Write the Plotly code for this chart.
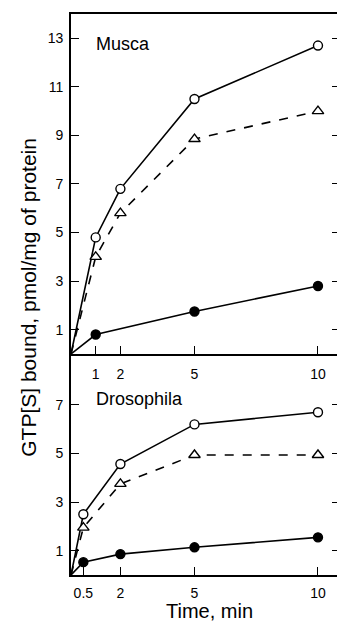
import plotly.graph_objects as go

# Musca (top panel)
musca_x = [0, 1, 2, 5, 10]
musca_open_circle = [0, 4.8, 6.8, 10.5, 12.7]
musca_triangle = [0, 4.0, 5.8, 8.85, 10.0]
musca_filled_x = [0, 1, 5, 10]
musca_filled = [0, 0.8, 1.75, 2.8]

# Drosophila (bottom panel)
dros_x = [0, 0.5, 2, 5, 10]
dros_open_circle = [0, 2.5, 4.57, 6.2, 6.7]
dros_triangle = [0, 1.95, 3.75, 4.94, 4.94]
dros_filled = [0, 0.53, 0.86, 1.14, 1.55]

musca_xticks = [1, 2, 5, 10]
dros_xticks = [0.5, 2, 5, 10]
musca_yticks = [1, 3, 5, 7, 9, 11, 13]
dros_yticks = [1, 3, 5, 7]

FONT = "Liberation Sans, Arial, sans-serif"
LW = 1.6


def series(x, y, symbol, dash, xa, ya, fill=False):
    traces = [go.Scatter(
        x=x, y=y, xaxis=xa, yaxis=ya, mode="lines",
        line=dict(color="black", width=LW, dash=dash),
        showlegend=False, hoverinfo="skip",
    )]
    # origin point has no marker in the reference
    traces.append(go.Scatter(
        x=x[1:], y=y[1:], xaxis=xa, yaxis=ya, mode="markers",
        marker=dict(symbol=symbol, size=9 if symbol == "circle" else 10,
                    opacity=1,
                    color="#000000" if fill else "#ffffff",
                    line=dict(color="#000000", width=1.4)),
        showlegend=False, cliponaxis=False,
    ))
    return traces


fig = go.Figure()
# top panel: x2 / y2
for t in (series(musca_x, musca_open_circle, "circle", "solid", "x2", "y2")
          + series(musca_x, musca_triangle, "triangle-up", "dash", "x2", "y2")
          + series(musca_filled_x, musca_filled, "circle", "solid", "x2", "y2", fill=True)):
    fig.add_trace(t)
# bottom panel: x / y
for t in (series(dros_x, dros_open_circle, "circle", "solid", "x", "y")
          + series(dros_x, dros_triangle, "triangle-up", "dash", "x", "y")
          + series(dros_x, dros_filled, "circle", "solid", "x", "y", fill=True)):
    fig.add_trace(t)
# empty traces so the right-hand tick axes exist
fig.add_trace(go.Scatter(x=[], y=[], xaxis="x", yaxis="y3", showlegend=False))
fig.add_trace(go.Scatter(x=[], y=[], xaxis="x2", yaxis="y4", showlegend=False))

split = 0.394
xr = [0, 10.77]
tickfont = dict(family=FONT, size=14, color="black")
common_x = dict(range=xr, showgrid=False, zeroline=False, showline=True,
                linecolor="black", linewidth=LW, ticks="inside", ticklen=8,
                tickwidth=1.3, tickcolor="black", tickfont=tickfont)
common_y = dict(showgrid=False, zeroline=False, showline=True,
                linecolor="black", linewidth=LW, ticks="inside", ticklen=8,
                tickwidth=1.3, tickcolor="black", tickfont=tickfont,
                ticklabelstandoff=3)

fig.update_layout(
    width=337, height=627,
    margin=dict(l=71, r=0, t=14, b=52),
    paper_bgcolor="white", plot_bgcolor="white",
    font=dict(family=FONT, color="black"),
    xaxis=dict(common_x, anchor="y", tickvals=dros_xticks,
               ticktext=["0.5", "2", "5", "10"], ticklabelstandoff=4),
    yaxis=dict(common_y, domain=[0, split], range=[0, 9.1], anchor="x",
               tickvals=dros_yticks),
    xaxis2=dict(common_x, anchor="y2", tickvals=musca_xticks, mirror=True,
                ticklabelstandoff=6),
    yaxis2=dict(common_y, domain=[split, 1], range=[0, 14], anchor="x2",
                tickvals=musca_yticks),
    yaxis3=dict(overlaying="y", side="right", anchor="x", range=[0, 9.1],
                tickvals=dros_yticks, ticks="inside", ticklen=5, tickwidth=1.3,
                tickcolor="black", showticklabels=False, showline=False,
                showgrid=False, zeroline=False),
    yaxis4=dict(overlaying="y2", side="right", anchor="x2", range=[0, 14],
                tickvals=musca_yticks, ticks="inside", ticklen=5, tickwidth=1.3,
                tickcolor="black", showticklabels=False, showline=False,
                showgrid=False, zeroline=False),
    annotations=[
        dict(text="Musca", xref="x2 domain", yref="y2 domain", x=0.088, y=0.913,
             xanchor="left", yanchor="middle", showarrow=False,
             font=dict(family=FONT, size=18, color="black")),
        dict(text="Drosophila", xref="x domain", yref="y domain", x=0.088, y=0.795,
             xanchor="left", yanchor="middle", showarrow=False,
             font=dict(family=FONT, size=18, color="black")),
        dict(text="GTP[S] bound, pmol/mg of protein", xref="paper", yref="paper",
             x=-0.16, y=0.495, xanchor="center", yanchor="middle", textangle=-90,
             showarrow=False, font=dict(family=FONT, size=21, color="black")),
        dict(text="Time, min", xref="paper", yref="paper", x=0.52, y=-0.065,
             xanchor="center", yanchor="middle", showarrow=False,
             font=dict(family=FONT, size=20, color="black")),
    ],
)

fig.write_html("out.html")
